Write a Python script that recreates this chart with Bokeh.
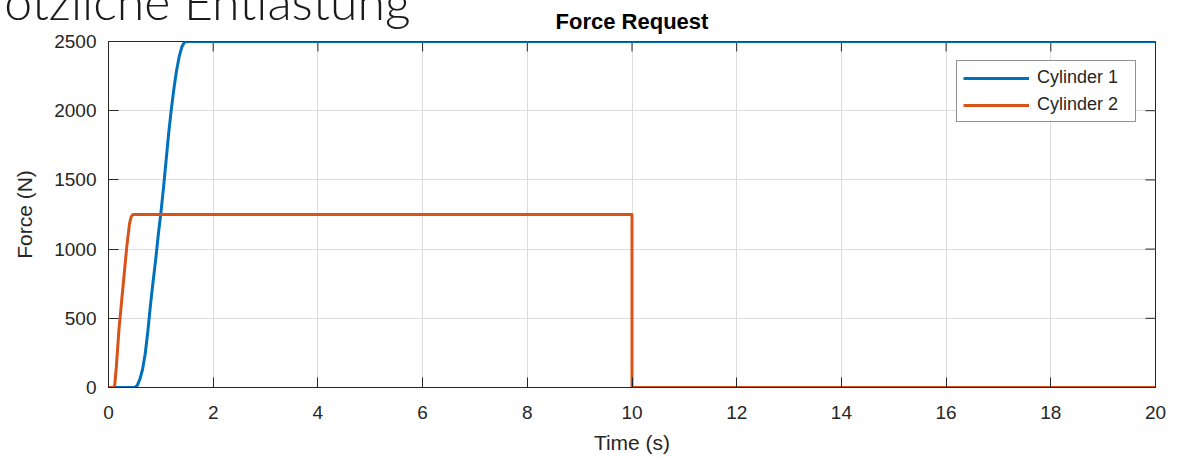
from bokeh.plotting import figure
from bokeh.models import (Range1d, Legend, LegendItem, Title,
                          FixedTicker, ColumnDataSource)
from bokeh.embed import file_html
from bokeh.resources import INLINE

# ---- data ----
cyl1_t = [0, 0.5, 0.55, 0.6, 0.65, 0.7, 0.75, 0.8, 0.85, 0.9, 0.95, 1.0, 1.05,
          1.1, 1.15, 1.2, 1.25, 1.3, 1.35, 1.4, 1.45, 1.5, 20]
cyl1_f = [0, 0, 15, 60, 130, 240, 400, 590, 760, 920, 1100, 1260, 1440,
          1640, 1840, 2010, 2160, 2290, 2390, 2460, 2495, 2500, 2500]
cyl2_t = [0, 0.1, 0.12, 0.15, 0.2, 0.25, 0.3, 0.35, 0.4, 0.43, 0.46, 0.5, 10, 10, 20]
cyl2_f = [0, 0, 20, 150, 420, 620, 820, 1020, 1180, 1230, 1248, 1250, 1250, 0, 0]
series_names = ["Cylinder 1", "Cylinder 2"]
x_ticks = [0, 2, 4, 6, 8, 10, 12, 14, 16, 18, 20]
y_ticks = [0, 500, 1000, 1500, 2000, 2500]
title_text = "Force Request"
header_text = "plötzliche Entlastung"
x_label = "Time (s)"
y_label = "Force (N)"

BLUE = "#0072BD"
ORANGE = "#D95319"
AX = "#262626"
FONT = "Liberation Sans"

FW, FH = 1047, 346
X0, X1, Y0, Y1 = 0, 20, 0, 2500

p = figure(frame_width=FW, frame_height=FH,
           min_border_left=108, min_border_right=28,
           min_border_top=41, min_border_bottom=72,
           x_range=Range1d(X0, X1), y_range=Range1d(Y0, Y1),
           output_backend="svg", toolbar_location=None,
           background_fill_color="white", border_fill_color="white")

p.outline_line_color = AX
p.outline_line_width = 1

# main title (closest to the frame)
p.add_layout(Title(text=title_text, align="center", vertical_align="middle",
                   text_font=FONT, text_font_size="22px", text_font_style="bold",
                   text_color="#000000", standoff=14), "above")
# cut-off slide header, top left (outermost, squeezed to zero height)
p.add_layout(Title(text=header_text, align="right", vertical_align="middle",
                   offset=745, text_font="Lato Light, Lato", text_font_size="50px",
                   text_font_style="normal", text_color="#1a1a1a",
                   standoff=-66), "above")

# grid
for g in (p.xgrid, p.ygrid):
    g.grid_line_color = "#dcdcdc"
    g.grid_line_width = 1
p.xgrid.ticker = FixedTicker(ticks=x_ticks)
p.ygrid.ticker = FixedTicker(ticks=y_ticks)

def style_axis(ax):
    ax.axis_line_color = AX
    ax.major_tick_line_color = AX
    ax.major_tick_in = 10
    ax.major_tick_out = 0
    ax.minor_tick_line_color = None
    ax.major_label_text_font = FONT
    ax.major_label_text_font_size = "19px"
    ax.major_label_text_color = AX
    ax.axis_label_text_font = FONT
    ax.axis_label_text_font_size = "21px"
    ax.axis_label_text_font_style = "normal"
    ax.axis_label_text_color = AX

xa = p.xaxis[0]
xa.ticker = FixedTicker(ticks=x_ticks)
style_axis(xa)
xa.axis_label = x_label
xa.major_label_standoff = 18
xa.axis_label_standoff = 9

ya = p.yaxis[0]
ya.ticker = FixedTicker(ticks=y_ticks)
style_axis(ya)
ya.axis_label = y_label
ya.major_label_standoff = 12
ya.axis_label_standoff = 15

# mirrored inward ticks on the top and right box edges (10 px long)
tick_dy = 10 * (Y1 - Y0) / FH
tick_dx = 10 * (X1 - X0) / FW
p.segment(x0=x_ticks, y0=[Y1] * len(x_ticks), x1=x_ticks,
          y1=[Y1 - tick_dy] * len(x_ticks), line_color=AX, line_width=1)
p.segment(x0=[X1] * len(y_ticks), y0=y_ticks, x1=[X1 - tick_dx] * len(y_ticks),
          y1=y_ticks, line_color=AX, line_width=1)

src1 = ColumnDataSource(dict(t=cyl1_t, f=cyl1_f))
src2 = ColumnDataSource(dict(t=cyl2_t, f=cyl2_f))
r1 = p.line("t", "f", source=src1, line_color=BLUE, line_width=3, line_join="round")
r2 = p.line("t", "f", source=src2, line_color=ORANGE, line_width=3, line_join="round")

legend = Legend(items=[LegendItem(label=series_names[0], renderers=[r1]),
                       LegendItem(label=series_names[1], renderers=[r2])],
                location="top_right", margin=19, padding=6, spacing=6,
                glyph_width=66, glyph_height=20, label_height=20,
                label_width=92, label_standoff=8,
                label_text_font=FONT, label_text_font_size="18px",
                label_text_color=AX,
                border_line_color=AX, border_line_width=1,
                background_fill_color="white", background_fill_alpha=1)
p.add_layout(legend)

open("out.html", "w").write(file_html(p, INLINE))
